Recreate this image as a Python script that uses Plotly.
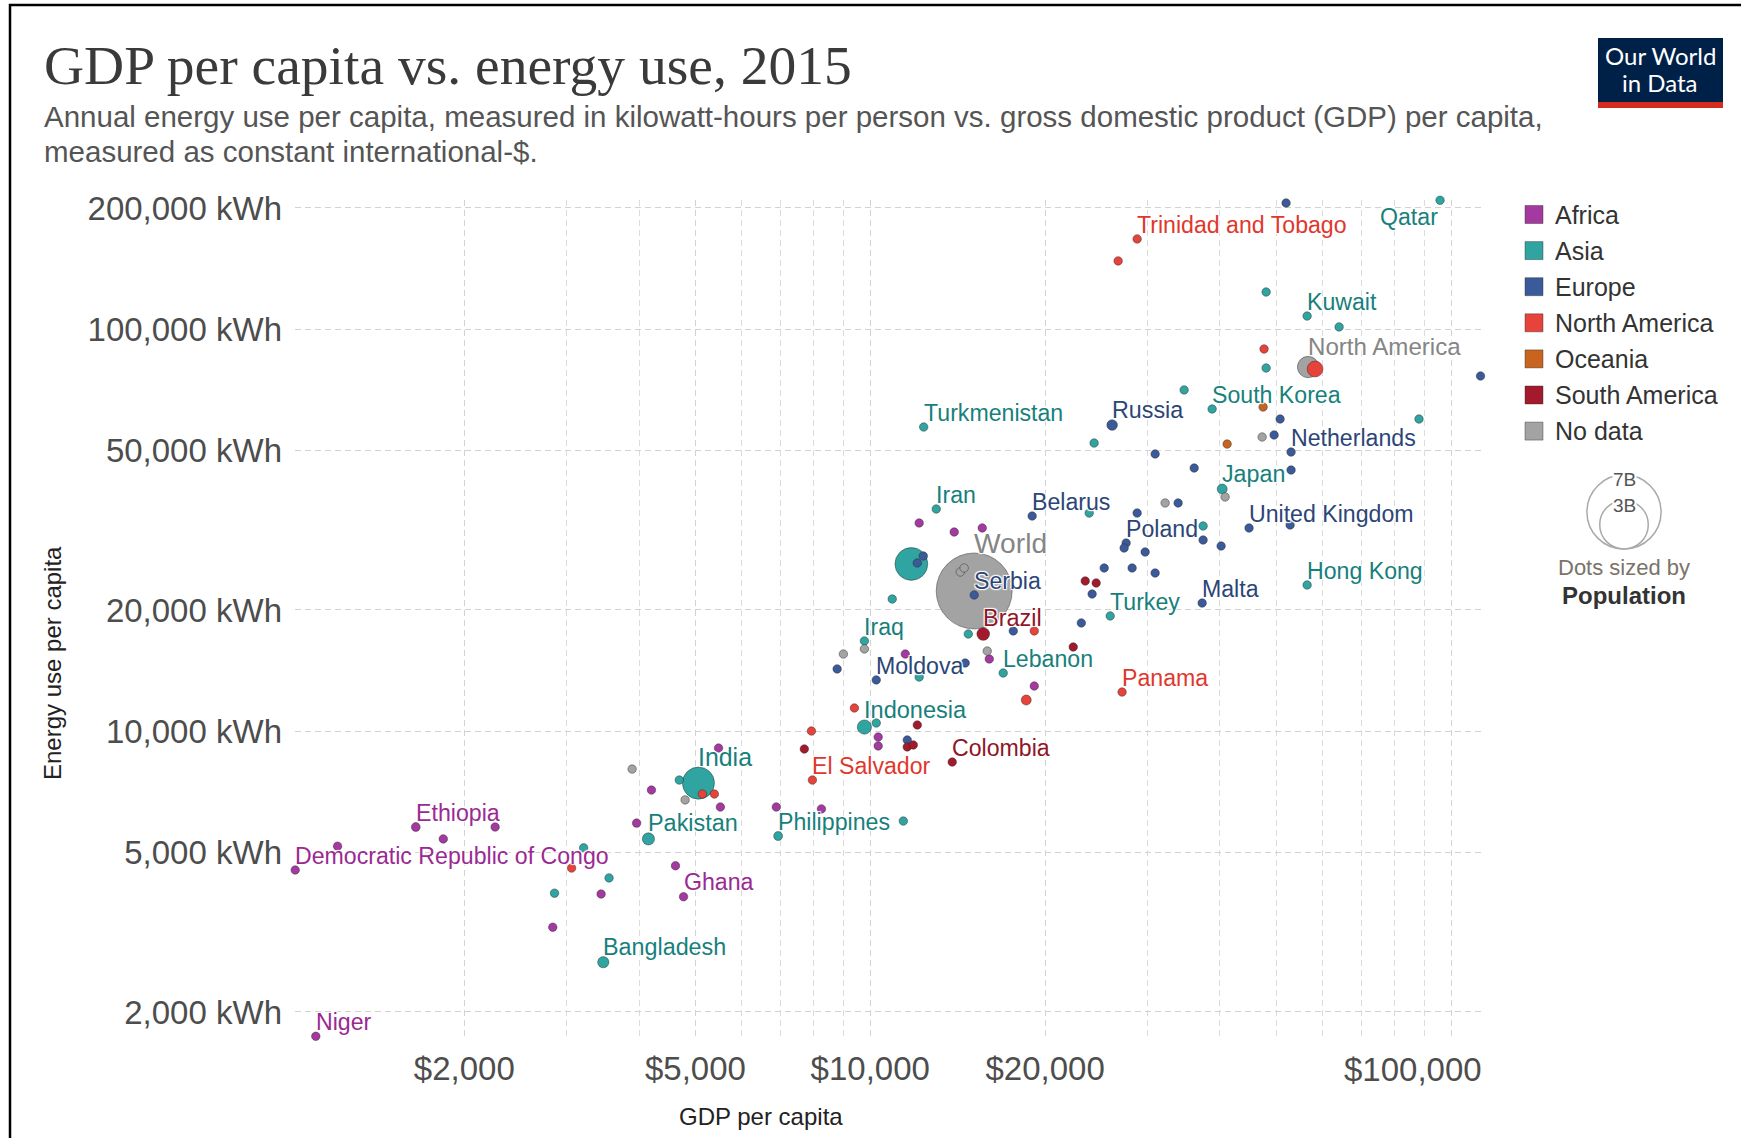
import numpy as np
import plotly.graph_objects as go

# page / plot-area geometry (pixels)
W, H = 1741, 1138
L, R, T, B = 295, 1481, 200, 1037

FONT = "Liberation Sans, Arial, sans-serif"

continents = ["Africa", "Asia", "Europe", "North America", "Oceania", "South America", "No data"]
dot_colors = {
    "Africa": "#a4399f", "Asia": "#2fa4a0", "Europe": "#3b5a9a", "North America": "#e6433a",
    "Oceania": "#c8641f", "South America": "#a31a2d", "No data": "#a3a3a3",
}
label_colors = {
    "Africa": "#9a2a92", "Asia": "#17807c", "Europe": "#2c4577", "North America": "#e0372d",
    "Oceania": "#b5561a", "South America": "#8f1527", "No data": "#858585",
}

# ---- data (2015) ----
# entity name ("" = unlabelled dot), continent, GDP per capita ($), energy use per capita (kWh),
# population in millions (None = small country, drawn at the minimum dot size)
entity = (
    ["Niger", "Democratic Republic of Congo", "", "Ethiopia", "", "", "", "", "", "Ghana", "", "", "",
     "", "", "", "", "", "", "", "", "", "", ""]
    + ["Bangladesh", "Pakistan", "India", "", "", "", "", "Philippines", "", "Indonesia", "", "Iraq", "",
       "Lebanon", "", "", "", "Iran", "Turkmenistan", "Turkey", "", "", "", "South Korea", "Japan", "",
       "Hong Kong", "", "Kuwait", "", "", "", "Qatar"]
    + ["", "Moldova", "", "", "Serbia", "", "", "", "Belarus", "", "", "", "", "", "", "Poland", "", "",
       "", "", "", "Malta", "United Kingdom", "", "", "", "Netherlands", "", "", "", "Russia", "", ""]
    + ["", "", "", "", "El Salvador", "", "", "", "Panama", "Trinidad and Tobago", "", "", ""]
    + ["", "", "", "", "Colombia", "Brazil", "", "", ""]
    + ["", ""]
    + ["", "", "", "", "", "World", "", "", "", "", "", "North America"]
)
continent = (["Africa"] * 24 + ["Asia"] * 33 + ["Europe"] * 33 + ["North America"] * 13
             + ["South America"] * 9 + ["Oceania"] * 2 + ["No data"] * 12)
gdp = (
    [1110, 1023, 1210, 1650, 1840, 2260, 3440, 2840, 4620, 4770, 3960, 4200, 5520, 5480, 6890, 8240,
     10320, 10320, 11490, 16030, 19160, 12140, 13950, 15590]
    + [3470, 4150, 5060, 4690, 3210, 3550, 2860, 6940, 11400, 9770, 10240, 9770, 12140, 16940, 14750,
       10910, 11770, 12990, 12360, 25890, 23820, 24290, 34710, 38780, 40360, 37420, 56520, 48040, 56520,
       64160, 48040, 88070, 95740]
    + [8770, 10240, 11580, 14570, 15100, 17630, 12340, 12050, 19000, 23090, 24100, 25280, 28240, 30940,
       29740, 27580, 27360, 28810, 33890, 37420, 40190, 37280, 44900, 52840, 36120, 30940, 53040, 53040,
       49590, 50780, 26090, 52000, 112400]
    + [3060, 5140, 5390, 7920, 7950, 9390, 19160, 18560, 27140, 28810, 26720, 47650, 58330]
    + [7700, 11580, 11860, 12050, 13840, 15650, 22360, 23450, 24490]
    + [41160, 47470]
    + [3890, 4800, 8990, 9770, 15900, 15100, 14290, 14510, 32190, 40830, 47290, 56740]
)
energy = (
    [1740, 4510, 5170, 5770, 5390, 5770, 3930, 3250, 4620, 3870, 5900, 7130, 6470, 9070, 6470, 6400,
     9660, 9180, 15540, 15110, 12940, 32920, 31260, 31990]
    + [2660, 5390, 7420, 7550, 5120, 4310, 3950, 5480, 5970, 10230, 10470, 16750, 13620, 13940, 17430,
       21300, 26030, 35660, 57040, 19330, 34850, 52040, 70530, 63240, 39990, 32360, 23080, 123600, 107700,
       101200, 79980, 59720, 209000]
    + [14270, 13400, 9500, 14760, 21790, 17740, 27250, 26180, 34260, 18570, 21920, 25440, 25440, 24720,
       27880, 29350, 28520, 34850, 36920, 29860, 28850, 20810, 31990, 32540, 45100, 48880, 49430, 44590,
       54490, 59720, 57700, 205800, 76400]
    + [4560, 6970, 6970, 10000, 7550, 11410, 17740, 11940, 12500, 167500, 147700, 89180, 79520]
    + [9020, 9130, 9230, 10350, 8370, 17430, 16180, 23620, 23350]
    + [51740, 63970]
    + [8040, 6740, 15540, 16000, 15810, 22300, 24860, 25440, 36920, 38210, 53870, 80430]
)
population = (
    [20, 77, None, 100, None, None, None, None, None, 27] + [None] * 14
    + [161, 189, 1311, None, None, None, None, 101, None, 258, None, 36, None, 6, None, None, 1371,
       79, 5, 79, None, None, None, 51, 127, None, 7, None, 4, None, None, None, 2.5]
    + [None, 3.5, None, None, 7, None, None, None, 9.5, None, None, None, None, None, None, 38, None,
       None, None, None, None, 0.4, 65, None, None, None, 17, None, None, None, 144, None, None]
    + [None, None, None, None, 6, None, None, 127, 4, 1.4, None, None, 321]
    + [None, None, None, None, 48, 206, None, None, None]
    + [None, None]
    + [None, None, None, None, None, 7350, None, None, None, None, None, 580]
)

y_tickvals = [2000, 5000, 10000, 20000, 50000, 100000, 200000]
x_tickvals = [2000, 5000, 10000, 20000, 100000]
x_minor = [3000, 4000, 6000, 7000, 8000, 9000, 30000, 40000, 50000, 60000, 70000, 80000, 90000]

x_range = [3.0095, 5.0516]
y_range = [3.2388, 5.3209]


def px_x(px):
    return (px - L) / (R - L)


def px_y(py):
    return (B - py) / (B - T)


def dot_diameter(p):
    if p is None:
        return 8.5
    return max(8.5, 76 * np.sqrt(p / 7350.0))


def paper_text(px, py, text, size, color, family=FONT, xanchor="center", **kw):
    return dict(x=px_x(px), y=px_y(py), xref="paper", yref="paper", xanchor=xanchor,
                yanchor="middle", text=text, showarrow=False,
                font=dict(family=family, size=size, color=color), **kw)


diam = np.array([dot_diameter(p) for p in population])
order = np.argsort(-diam, kind="stable")

fig = go.Figure()
fig.add_trace(go.Scatter(
    x=[gdp[i] for i in order],
    y=[energy[i] for i in order],
    mode="markers",
    marker=dict(
        size=[diam[i] for i in order],
        color=[dot_colors[continent[i]] for i in order],
        line=dict(color="rgba(40,40,40,0.55)", width=0.8),
        opacity=1,
    ),
    hovertext=[entity[i] for i in order],
    hoverinfo="text+x+y",
    cliponaxis=False,
    showlegend=False,
))

annotations = []
halo = "1px 1px 1px #fff, -1px -1px 1px #fff, 1px -1px 1px #fff, -1px 1px 1px #fff"
for i, name in enumerate(entity):
    if not name:
        continue
    r = diam[i] / 2
    fs = 22.5 + 0.15 * r
    if name == "Qatar":
        xa, xs, ys = "right", 0, -17
    else:
        xa, xs, ys = "left", -2, r + 10
    annotations.append(dict(
        x=np.log10(gdp[i]), y=np.log10(energy[i]), xref="x", yref="y",
        text=name, showarrow=False, xanchor=xa, yanchor="middle", xshift=xs, yshift=ys,
        font=dict(family=FONT, size=fs, color=label_colors[continent[i]], shadow=halo),
    ))

# titles and axis titles
annotations += [
    paper_text(42, 66, "GDP per capita vs. energy use, 2015", 55.5, "#3a3a3a",
               family="Liberation Serif, serif", xanchor="left"),
    paper_text(42, 117, "Annual energy use per capita, measured in kilowatt-hours per person vs. "
                        "gross domestic product (GDP) per capita,", 29.5, "#555555", xanchor="left"),
    paper_text(42, 152, "measured as constant international-$.", 29.5, "#555555", xanchor="left"),
    paper_text(52, 663, "Energy use per capita", 24, "#222222", textangle=-90),
    paper_text(761, 1116, "GDP per capita", 24, "#222222"),
    paper_text(1484, 1069, "$100,000", 33, "#4d4d4d", xanchor="right"),
]

shapes = []
# frame of the screenshot
shapes.append(dict(type="rect", xref="paper", yref="paper", x0=px_x(10), x1=px_x(1780),
                   y0=px_y(1180), y1=px_y(5), line=dict(color="black", width=2.5)))
# logo
shapes.append(dict(type="rect", xref="paper", yref="paper", x0=px_x(1598), x1=px_x(1723),
                   y0=px_y(102), y1=px_y(38), fillcolor="#002147", line=dict(width=0)))
shapes.append(dict(type="rect", xref="paper", yref="paper", x0=px_x(1598), x1=px_x(1723),
                   y0=px_y(108), y1=px_y(102), fillcolor="#d42b21", line=dict(width=0)))
annotations += [
    paper_text(1660, 56, "Our World", 24, "white", family="Lato, " + FONT),
    paper_text(1660, 83, "in Data", 24, "white", family="Lato, " + FONT),
]

# colour legend
for k, c in enumerate(continents):
    cy = 214.5 + 36.1 * k
    shapes.append(dict(type="rect", xref="paper", yref="paper", x0=px_x(1525), x1=px_x(1543),
                       y0=px_y(cy + 9), y1=px_y(cy - 9), fillcolor=dot_colors[c],
                       line=dict(color="rgba(40,40,40,0.4)", width=1)))
    annotations.append(paper_text(1553, cy, c, 25, "#333333", xanchor="left"))

# size legend
cx, base = 1624, 549
for pop_b, lab in [(7000, "7B"), (3000, "3B")]:
    r = dot_diameter(pop_b) / 2
    shapes.append(dict(type="circle", xref="paper", yref="paper", x0=px_x(cx - r), x1=px_x(cx + r),
                       y0=px_y(base), y1=px_y(base - 2 * r), line=dict(color="#aaaaaa", width=1.5)))
    annotations.append(paper_text(cx, base - 2 * r + 5, lab, 19, "#555555", bgcolor="white", borderpad=0))
annotations += [
    paper_text(cx, 567, "Dots sized by", 22, "#7b7368"),
    paper_text(cx, 595, "<b>Population</b>", 24, "#333333"),
]

dash = "6px,4px"
fig.update_layout(
    width=W, height=H,
    margin=dict(l=L, r=W - R, t=T, b=H - B, pad=0),
    paper_bgcolor="white", plot_bgcolor="white",
    xaxis=dict(
        type="log", range=x_range, tickmode="array", tickvals=x_tickvals,
        ticktext=["$2,000", "$5,000", "$10,000", "$20,000", ""],
        showgrid=True, gridcolor="#d2d2d2", griddash=dash, gridwidth=1,
        zeroline=False, showline=False, ticks="", ticklabelstandoff=9,
        tickfont=dict(family=FONT, size=33, color="#4d4d4d"),
        minor=dict(tickmode="array", tickvals=x_minor, showgrid=True, gridcolor="#dcdcdc",
                   griddash=dash, gridwidth=1, ticks=""),
    ),
    yaxis=dict(
        type="log", range=y_range, tickmode="array", tickvals=y_tickvals,
        ticktext=[f"{v:,} kWh" for v in y_tickvals],
        showgrid=True, gridcolor="#d2d2d2", griddash=dash, gridwidth=1,
        zeroline=False, showline=False, ticks="", ticklabelstandoff=12,
        tickfont=dict(family=FONT, size=33, color="#4d4d4d"),
    ),
    annotations=annotations,
    shapes=shapes,
    showlegend=False,
    hovermode="closest",
)

fig.write_html("out.html", config={"displayModeBar": False},
               post_script="document.body.style.margin='0';document.body.style.overflow='hidden';")
